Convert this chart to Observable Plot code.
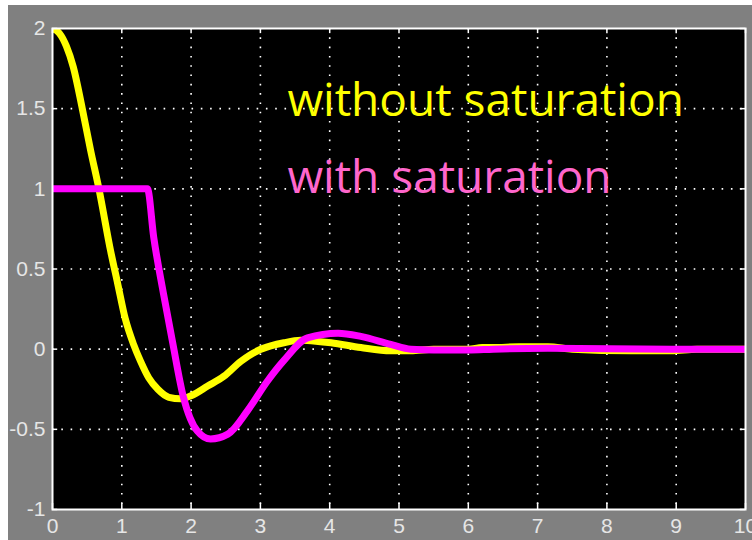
<!DOCTYPE html>
<html>
<head>
<meta charset="utf-8">
<script src="https://cdn.jsdelivr.net/npm/d3@7"></script>
<script src="https://cdn.jsdelivr.net/npm/@observablehq/plot@0.6"></script>
<style>
  html, body { margin: 0; padding: 0; background: #ffffff; overflow: hidden; }
  body { padding: 5px 0 0 8px; width: 752px; height: 540px; box-sizing: border-box; }
  svg { display: block; }
</style>
</head>
<body>
<div id="chart"></div>
<script>
// ---- data ----
const xTicks = [0, 1, 2, 3, 4, 5, 6, 7, 8, 9, 10];
const xTickLabels = ["0", "1", "2", "3", "4", "5", "6", "7", "8", "9", "10"];
const yTicks = [-1, -0.5, 0, 0.5, 1, 1.5, 2];
const yTickLabels = ["-1", "-0.5", "0", "0.5", "1", "1.5", "2"];
const xGrid = [1, 2, 3, 4, 5, 6, 7, 8, 9];
const yGrid = [-0.5, 0, 0.5, 1, 1.5];

// without saturation (yellow)
const tWithout = [0, 0.1, 0.2, 0.3, 0.43, 0.55, 0.67, 0.84, 0.94, 1.05, 1.17, 1.27, 1.39, 1.52, 1.68, 1.85, 2.0, 2.24, 2.47, 2.72, 2.96, 3.15, 3.34, 3.58, 3.8, 4.02, 4.45, 4.88, 5.17, 5.5, 6.0, 6.2, 6.36, 6.73, 7.15, 7.5, 8.35, 8.93, 9.3, 10];
const vWithout = [2.0, 1.97, 1.89, 1.76, 1.5, 1.24, 1.0, 0.61, 0.41, 0.19, 0.03, -0.075, -0.18, -0.25, -0.3, -0.31, -0.29, -0.23, -0.17, -0.075, -0.01, 0.02, 0.04, 0.055, 0.05, 0.04, 0.01, -0.01, -0.01, 0.0, 0.0, 0.01, 0.01, 0.015, 0.015, 0.0, -0.01, -0.01, 0.0, 0.0];

// with saturation (magenta)
const tWith = [0, 1.37, 1.46, 1.6, 1.73, 1.89, 2.09, 2.28, 2.53, 2.82, 3.1, 3.34, 3.68, 4.12, 4.45, 4.88, 5.17, 5.5, 6.0, 6.36, 7.15, 8.93, 10];
const vWith = [1.0, 1.0, 0.7, 0.35, 0.05, -0.3, -0.51, -0.56, -0.53, -0.38, -0.2, -0.07, 0.07, 0.1, 0.08, 0.03, 0.0, -0.005, -0.005, 0.0, 0.005, 0.0, 0.0];

const legendLabels = ["without saturation", "with saturation"];
const legendX = [3.39, 3.39];
const legendY = [1.456, 0.975];
const legendColors = ["#ffff00", "#ff66cc"];

// ---- build tables ----
const without = tWithout.map((t, i) => ({t, v: vWithout[i]}));
const withSat = tWith.map((t, i) => ({t, v: vWith[i]}));
const legend = legendLabels.map((label, i) => ({label, x: legendX[i], y: legendY[i], color: legendColors[i]}));

const white = "#ffffff";
const labelColor = "#e6e6e6";

const chart = Plot.plot({
  width: 744,
  height: 535,
  marginLeft: 44,
  marginTop: 23,
  marginRight: 7,
  marginBottom: 31,
  style: {background: "#808080", fontFamily: "'Liberation Sans', Arial, sans-serif"},
  x: {domain: [0, 10], ticks: xTicks},
  y: {domain: [-1, 2], ticks: yTicks},
  marks: [
    Plot.frame({fill: "black", stroke: "none"}),
    Plot.gridX(xGrid, {stroke: white, strokeOpacity: 1, strokeWidth: 1.6, strokeDasharray: "1.6 7.7"}),
    Plot.gridY(yGrid, {stroke: white, strokeOpacity: 1, strokeWidth: 1.6, strokeDasharray: "1.6 7.7"}),
    // inward tick marks on all four sides
    Plot.ruleX(xTicks, {x: d => d, y1: -1, y2: -0.962, stroke: white, strokeWidth: 1.5}),
    Plot.ruleX(xTicks, {x: d => d, y1: 2, y2: 1.968, stroke: white, strokeWidth: 1.5}),
    Plot.ruleY(yTicks, {y: d => d, x1: 0, x2: 0.075, stroke: white, strokeWidth: 1.5}),
    Plot.ruleY(yTicks, {y: d => d, x1: 10, x2: 9.925, stroke: white, strokeWidth: 1.5}),
    Plot.axisX(xTicks, {tickSize: 0, tickPadding: 9, fontSize: 21, fill: labelColor, label: null, tickFormat: (d, i) => xTickLabels[i]}),
    Plot.axisY(yTicks, {tickSize: 0, tickPadding: 7, fontSize: 21, fill: labelColor, label: null, tickFormat: (d, i) => yTickLabels[i]}),
    Plot.line(without, {x: "t", y: "v", stroke: "#ffff00", strokeWidth: 7, clip: true, curve: "monotone-x"}),
    Plot.line(withSat, {x: "t", y: "v", stroke: "#ff00ff", strokeWidth: 7, clip: true, curve: "monotone-x"}),
    Plot.frame({stroke: white, strokeWidth: 2}),
    Plot.text(legend, {x: "x", y: "y", text: "label", fill: "color", textAnchor: "start", lineAnchor: "bottom", fontSize: 46, fontFamily: "'Open Sans', sans-serif"})
  ]
});
document.getElementById("chart").appendChild(chart);
</script>
</body>
</html>
